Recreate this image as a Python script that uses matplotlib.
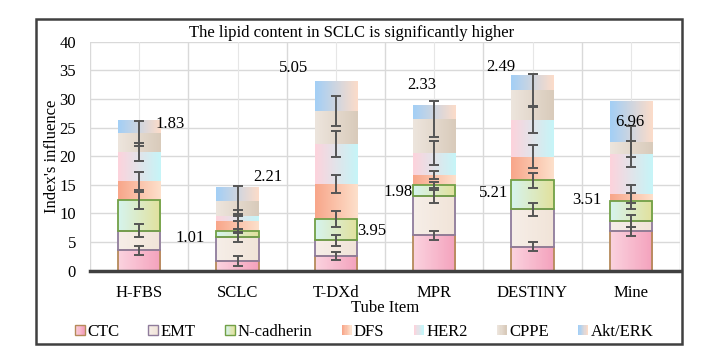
import matplotlib.pyplot as plt
import numpy as np
from matplotlib.colors import to_rgb
from matplotlib.legend_handler import HandlerBase
from matplotlib.patches import Patch, Rectangle

plt.rcParams['font.family'] = ['Liberation Serif', 'DejaVu Serif']
plt.rcParams['font.size'] = 12

# categories and stacked series
tubes = ['H-FBS', 'SCLC', 'T-DXd', 'MPR', 'DESTINY', 'Mine']
ctc = [3.6, 1.7, 2.5, 6.2, 4.2, 6.9]
emt = [3.4, 4.2, 2.8, 6.8, 6.5, 1.8]
ncad = [5.3, 1.0, 3.8, 2.0, 5.1, 3.5]
dfs = [3.4, 1.7, 6.1, 1.7, 4.1, 1.2]
her2 = [5.0, 1.0, 6.9, 3.9, 6.4, 7.0]
cppe = [3.3, 2.6, 5.8, 5.9, 5.3, 2.1]
akt = [2.1, 2.4, 5.2, 2.4, 2.6, 7.1]

# error half-widths at the top of each of the first six series
err_ctc = [0.8, 0.8, 0.7, 0.8, 0.8, 0.8]
err_emt = [1.1, 0.9, 1.0, 1.1, 1.2, 1.0]
err_ncad = [1.5, 0.3, 1.4, 0.5, 1.3, 1.4]
err_dfs = [1.6, 1.3, 1.6, 0.7, 2.0, 1.6]
err_her2 = [1.6, 1.0, 2.3, 2.1, 2.3, 2.3]
err_cppe = [2.2, 2.6, 2.7, 3.1, 2.8, 2.7]

# floating value labels: (x position, y position, text)
note_x = [0.31, 0.52, 1.31, 1.57, 2.37, 2.87, 2.63, 3.60, 3.68, 4.55, 4.99]
note_y = [25.6, 5.7, 16.3, 35.4, 6.9, 32.4, 13.7, 13.5, 35.6, 12.3, 26.0]
note_txt = ['1.83', '1.01', '2.21', '5.05', '3.95', '2.33', '1.98', '5.21', '2.49', '3.51', '6.96']

series = [
    ('CTC', ctc, '#fbd3df', '#f4a2bd', '#b58a5a'),
    ('EMT', emt, '#f6eee8', '#f1e4d8', '#8f7c9c'),
    ('N-cadherin', ncad, '#d6f4ee', '#e2e19c', '#72a047'),
    ('DFS', dfs, '#f8a68a', '#fde0cb', None),
    ('HER2', her2, '#fdd3dc', '#c6f5f8', None),
    ('CPPE', cppe, '#ede5dd', '#d9cbbb', None),
    ('Akt/ERK', akt, '#a3cff6', '#fcdcc9', None),
]
errs = [err_ctc, err_emt, err_ncad, err_dfs, err_her2, err_cppe]


def blend(c0, c1, n):
    a = np.array(to_rgb(c0))
    b = np.array(to_rgb(c1))
    t = np.linspace(0, 1, n)[:, None]
    return a * (1 - t) + b * t


def grad_fill(ax, x0, x1, y0, y1, c0, c1):
    img = blend(c0, c1, 64)[None, :, :]
    ax.imshow(img, extent=[x0, x1, y0, y1], aspect='auto', zorder=2,
              interpolation='bilinear')


class HandlerGrad(HandlerBase):
    # legend key drawn as a small left-to-right gradient square
    def __init__(self, c0, c1, ec):
        super().__init__()
        self.c0, self.c1, self.ec = c0, c1, ec

    def create_artists(self, legend, orig_handle, xdescent, ydescent, width,
                       height, fontsize, trans):
        n = 8
        cols = blend(self.c0, self.c1, n)
        arts = []
        for j in range(n):
            arts.append(Rectangle((-xdescent + j * width / n, -ydescent), width / n + 0.3,
                                  height, fc=cols[j], ec='none', transform=trans))
        if self.ec:
            arts.append(Rectangle((-xdescent, -ydescent), width, height, fill=False,
                                  ec=self.ec, lw=1.0, transform=trans))
        return arts


fig = plt.figure(figsize=(7.03, 3.6), dpi=100)
ax = fig.add_axes([90 / 703, 1 - 270.7 / 360, 590 / 703, 229 / 360])

x = np.arange(len(tubes))
w = 0.43
bottom = np.zeros(len(tubes))
tops = []
for name, vals, c0, c1, ec in series:
    vals = np.array(vals)
    for i in range(len(tubes)):
        grad_fill(ax, x[i] - w / 2, x[i] + w / 2, bottom[i], bottom[i] + vals[i], c0, c1)
        if ec:
            ax.add_patch(Rectangle((x[i] - w / 2, bottom[i]), w, vals[i], fill=False,
                                   ec=ec, lw=1.3, zorder=3))
    bottom = bottom + vals
    tops.append(bottom.copy())

for k, e in enumerate(errs):
    ax.errorbar(x, tops[k], yerr=e, fmt='none', ecolor='#555555', elinewidth=1.4,
                capsize=3.5, capthick=1.4, zorder=4)

for tx, ty, s in zip(note_x, note_y, note_txt):
    ax.text(tx, ty, s, ha='center', va='center', fontsize=12, zorder=5)

ax.set_xlim(-0.5, len(tubes) - 0.5)
ax.set_ylim(0, 40)
ax.set_yticks(np.arange(0, 41, 5))
ax.set_xticks(x)
ax.set_xticklabels(tubes)
ax.tick_params(length=0)
ax.tick_params(axis='y', pad=10)
ax.tick_params(axis='x', pad=10)
for yv in np.arange(5, 41, 5):
    ax.axhline(yv, color='#d9d9d9', lw=1, zorder=0)
for xv in np.arange(-0.5, len(tubes), 1):
    ax.axvline(xv, color='#d9d9d9', lw=1, zorder=0)
for xv in x:
    ax.axvline(xv, color='#e6e6e6', lw=0.8, zorder=0)
for s in ['top', 'right', 'left']:
    ax.spines[s].set_visible(False)
ax.spines['bottom'].set_color('#404040')
ax.spines['bottom'].set_linewidth(2.5)
ax.spines['bottom'].set_zorder(6)

ax.set_ylabel("Index's influence")
ax.yaxis.set_label_coords(-30 / 590, 0.5)
ax.set_xlabel('Tube Item')
ax.xaxis.set_label_coords(0.5, -29 / 229)
fig.text(352 / 703, 1 - 33 / 360, 'The lipid content in SCLC is significantly higher',
         ha='center', va='center', fontsize=12)

handles = [Patch() for s in series]
hmap = {h: HandlerGrad(s[2], s[3], s[4]) for h, s in zip(handles, series)}
fig.legend(handles, [s[0] for s in series], ncol=7, loc='center',
           bbox_to_anchor=(364 / 703, 1 - 332 / 360), frameon=False,
           handlelength=0.6, handleheight=0.6, handletextpad=0.15, columnspacing=1.75,
           fontsize=12, handler_map=hmap)

fig.patches.append(Rectangle((36 / 703, 1 - 344 / 360), 646 / 703, 325 / 360,
                             transform=fig.transFigure, fill=False, ec='#404040', lw=1.8))

fig.savefig('out.png', dpi=100)
